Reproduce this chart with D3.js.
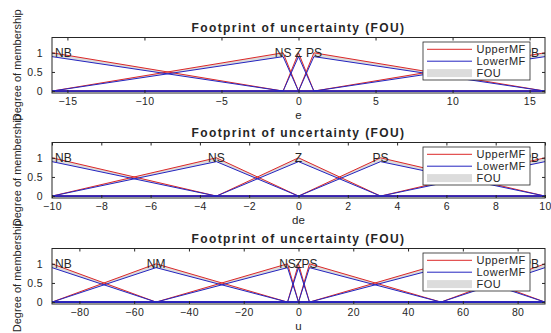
<!DOCTYPE html>
<html><head><meta charset="utf-8">
<script src="https://cdn.jsdelivr.net/npm/d3@7"></script>
<style>
body{margin:0;background:#fff;}
svg text{font-family:"Liberation Sans", Arial, Helvetica, sans-serif;fill:#262626;}
</style></head><body>
<svg id="chart" width="551" height="333"></svg>
<script>
// Interval type-2 triangular membership functions, each given as
// [left foot, peak, right foot]; the lower MF is the upper MF scaled.
const eDomain = [-16, 16];
const eTicks = [-15, -10, -5, 0, 5, 10, 15];
const eNames = ["NB", "NS", "Z", "PS", "PB"];
const eParams = [[-31, -16, -1], [-16, -1, 0], [-1, 0, 1], [0, 1, 16], [1, 16, 31]];

const deDomain = [-10, 10];
const deTicks = [-10, -8, -6, -4, -2, 0, 2, 4, 6, 8, 10];
const deNames = ["NB", "NS", "Z", "PS", "PB"];
const deParams = [[-16.67, -10, -3.33], [-10, -3.33, 0], [-3.33, 0, 3.33], [0, 3.33, 10], [3.33, 10, 16.67]];

const uDomain = [-90, 90];
const uTicks = [-80, -60, -40, -20, 0, 20, 40, 60, 80];
const uNames = ["NB", "NM", "NS", "Z", "PS", "PM", "PB"];
const uParams = [[-128, -90, -52], [-90, -52, -4], [-52, -4, 0], [-4, 0, 4], [0, 4, 52], [4, 52, 90], [52, 90, 128]];

const lowerScale = 0.9;
const yTicks = [0, 0.5, 1];
const legendItems = ["UpperMF", "LowerMF", "FOU"];
const titleText = "Footprint of uncertainty (FOU)";
const yLabelText = "Degree of membership";

const panels = [
  {domain: eDomain, ticks: eTicks, names: eNames, params: eParams, xlabel: "e"},
  {domain: deDomain, ticks: deTicks, names: deNames, params: deParams, xlabel: "de"},
  {domain: uDomain, ticks: uTicks, names: uNames, params: uParams, xlabel: "u"}
];

const svg = d3.select("#chart");
const left = 52, right = 545, plotH = 55.5;
const tops = [37.5, 142.5, 248.5];
const upperColor = "#dc2828", lowerColor = "#2424c0", fouColor = "#dcdcdc", axisColor = "#262626";
const fontStack = '"Liberation Sans", Arial, sans-serif';

function tri(p, x) {
  const [a, b, c] = p;
  if (x <= a || x >= c) return 0;
  return x <= b ? (x - a) / (b - a) : (c - x) / (c - b);
}

panels.forEach((pn, i) => {
  const top = tops[i];
  const x = d3.scaleLinear().domain(pn.domain).range([left, right]);
  const y = d3.scaleLinear().domain([-0.05, 1.4]).range([top + plotH, top]);
  const g = svg.append("g");

  const clipId = "clip" + i;
  g.append("clipPath").attr("id", clipId).append("rect")
    .attr("x", left).attr("y", top).attr("width", right - left).attr("height", plotH);
  const plot = g.append("g").attr("clip-path", `url(#${clipId})`);

  const curves = pn.params.map(p => {
    const xs = Array.from(new Set([pn.domain[0], p[0], p[1], p[2], pn.domain[1]]))
      .filter(v => v >= pn.domain[0] && v <= pn.domain[1]).sort((a, b) => a - b);
    return xs.map(v => ({x: v, up: tri(p, v), lo: lowerScale * tri(p, v)}));
  });

  const area = d3.area().x(d => x(d.x)).y0(d => y(d.lo)).y1(d => y(d.up));
  const upLine = d3.line().x(d => x(d.x)).y(d => y(d.up));
  const loLine = d3.line().x(d => x(d.x)).y(d => y(d.lo));

  curves.forEach(c => plot.append("path").attr("d", area(c)).attr("fill", fouColor));
  curves.forEach(c => plot.append("path").attr("d", upLine(c)).attr("fill", "none")
    .attr("stroke", upperColor).attr("stroke-width", 1));
  curves.forEach(c => plot.append("path").attr("d", loLine(c)).attr("fill", "none")
    .attr("stroke", lowerColor).attr("stroke-width", 1));

  // MF names at their peaks
  pn.params.forEach((p, k) => {
    let px = x(p[1]), anchor = "middle";
    if (p[1] <= pn.domain[0]) { px = left + 3; anchor = "start"; }
    else if (p[1] >= pn.domain[1]) { px = right - 6; anchor = "end"; }
    g.append("text").attr("x", px).attr("y", y(1)).attr("dy", "0.36em")
      .attr("text-anchor", anchor).attr("font-size", 12).text(pn.names[k]);
  });

  // axes with inward ticks on all four sides
  const axes = [
    [d3.axisBottom(x).tickValues(pn.ticks).tickFormat(d3.format("~g")), `translate(0,${top + plotH})`],
    [d3.axisTop(x).tickValues(pn.ticks).tickFormat(""), `translate(0,${top})`],
    [d3.axisLeft(y).tickValues(yTicks).tickFormat(d3.format("~g")), `translate(${left},0)`],
    [d3.axisRight(y).tickValues(yTicks).tickFormat(""), `translate(${right},0)`]
  ];
  axes.forEach(([ax, tr], j) => {
    ax.tickSizeInner(-3).tickSizeOuter(0).tickPadding(j === 2 ? 9 : 5);
    const a = g.append("g").attr("transform", tr).call(ax);
    a.select(".domain").remove();
    a.selectAll("line").attr("stroke", axisColor);
    a.selectAll("text").attr("font-size", 10.5).attr("fill", axisColor)
      .style("font-family", fontStack).style("letter-spacing", "0.4px");
  });
  g.append("rect").attr("x", left).attr("y", top).attr("width", right - left).attr("height", plotH)
    .attr("fill", "none").attr("stroke", axisColor).attr("stroke-width", 1);

  // title and axis labels
  g.append("text").attr("x", (left + right) / 2).attr("y", top - 6)
    .attr("text-anchor", "middle").attr("font-size", 12).attr("font-weight", "bold")
    .style("letter-spacing", "1.4px").text(titleText);
  g.append("text").attr("x", (left + right) / 2).attr("y", top + plotH + 26)
    .attr("text-anchor", "middle").attr("font-size", 11.5).text(pn.xlabel);
  g.append("text").attr("transform", `translate(21,${top + plotH / 2}) rotate(-90)`)
    .attr("text-anchor", "middle").attr("font-size", 11).text(yLabelText);

  // legend
  const lg = g.append("g").attr("transform", `translate(423,${top + 4.5})`);
  lg.append("rect").attr("width", 107).attr("height", 38).attr("fill", "#fff")
    .attr("stroke", axisColor).attr("stroke-width", 0.8);
  const rowY = [7.3, 19.2, 31.1];
  legendItems.forEach((name, k) => {
    if (k < 2) {
      lg.append("line").attr("x1", 4).attr("x2", 49).attr("y1", rowY[k]).attr("y2", rowY[k])
        .attr("stroke", k === 0 ? upperColor : lowerColor).attr("stroke-width", 1);
    } else {
      lg.append("rect").attr("x", 4).attr("y", rowY[k] - 4).attr("width", 45).attr("height", 8)
        .attr("fill", fouColor);
    }
    lg.append("text").attr("x", 53.5).attr("y", rowY[k]).attr("dy", "0.35em")
      .attr("font-size", 11).style("letter-spacing", "0.5px").text(name);
  });
});
</script>
</body></html>
